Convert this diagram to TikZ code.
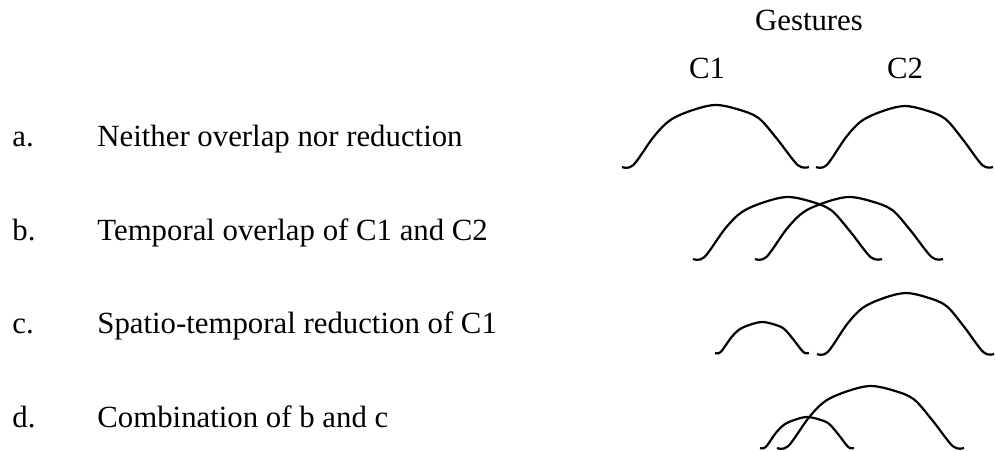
\documentclass[tikz,border=0pt]{standalone}
\usepackage{fontspec}
\setmainfont{Liberation Serif}
\usepackage{tikz}
\usetikzlibrary{positioning}
% one gesture bump: left x, base y, width, height
\newcommand{\gesture}[4]{%
  \draw[gest, shift={(#1,#2)}, xscale=#3, yscale=#4]
    plot[smooth, tension=0.55] coordinates {(0,0) (0.06,-0.03) (0.17,-0.49) (0.26,-0.76)
      (0.38,-0.92) (0.5,-1) (0.62,-0.93) (0.73,-0.79) (0.83,-0.45) (0.94,-0.03) (1,0)};}

\begin{document}
\begin{tikzpicture}[
  x=0.5pt, y=-0.5pt,
  txt/.style={font=\fontsize{15.4}{18}\selectfont, inner sep=0pt, anchor=base west},
  head/.style={font=\fontsize{15.4}{18}\selectfont, inner sep=0pt, anchor=base},
  gest/.style={line width=1.1pt, line join=round},
]
\useasboundingbox (0,0) rectangle (995,451);
% Header
\node[head] (gst) at (809,30) {Gestures};
\node[head] (c1) at (707,78) {C1};
\node[head] (c2) at (905,78) {C2};
% Row labels
\node[txt] (la) at (12,146) {a.};
\node[txt] (ta) at (97,146) {Neither overlap nor reduction};
\node[txt] (lb) at (12,240) {b.};
\node[txt] (tb) at (97,240) {Temporal overlap of C1 and C2};
\node[txt] (lc) at (12,333) {c.};
\node[txt] (tc) at (97,333) {Spatio-temporal reduction of C1};
\node[txt] (ld) at (12,427) {d.};
\node[txt] (td) at (97,427) {Combination of b and c};

% a. separate gestures
\gesture{622}{167}{187}{62}
\gesture{816}{167}{177}{61}
% b. overlap
\gesture{693}{259}{189}{62}
\gesture{755}{259}{188}{62}
% c. reduced C1
\gesture{715}{353}{94}{31}
\gesture{817}{354}{177}{61}
% d. reduced and overlapped
\gesture{760}{448}{94}{31}
\gesture{777}{448}{187}{62}
\end{tikzpicture}
\end{document}
